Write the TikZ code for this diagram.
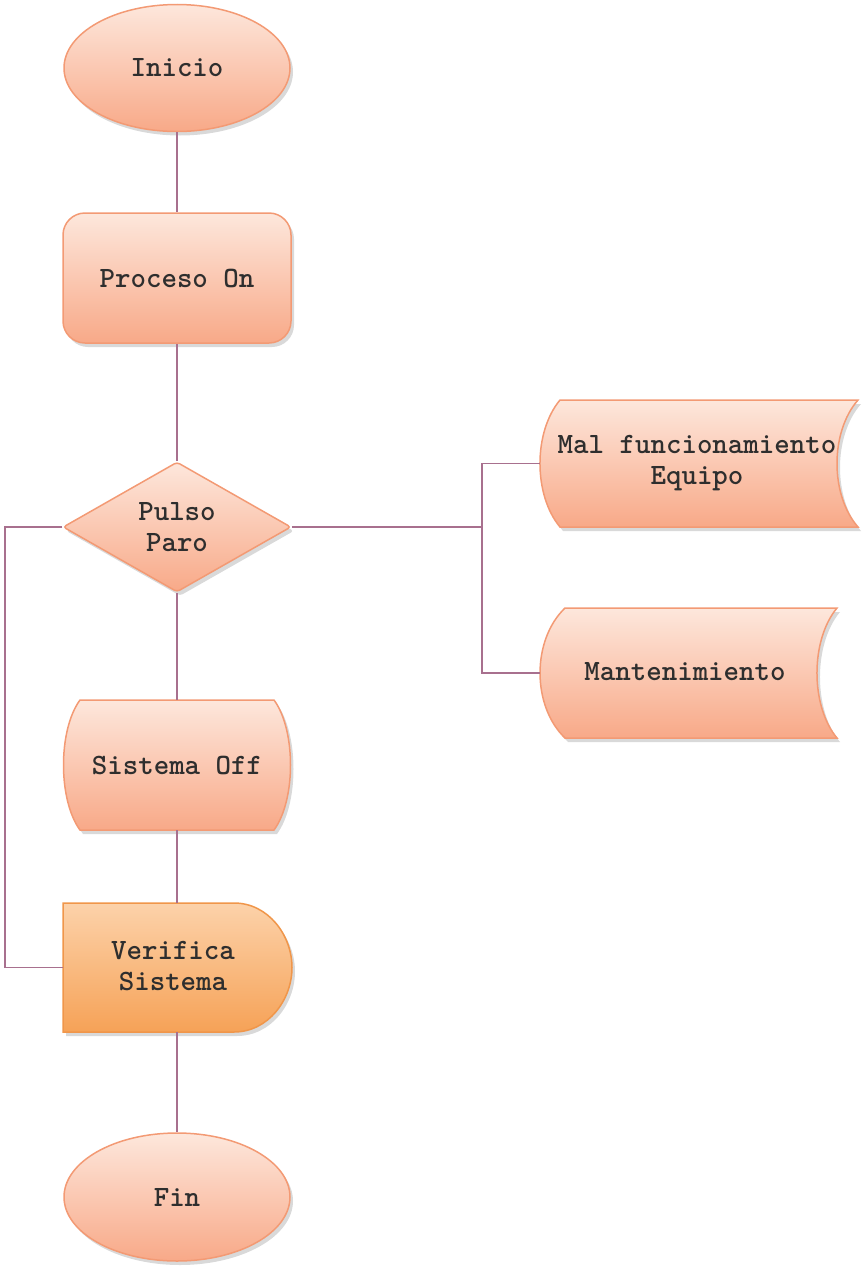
\documentclass[tikz,border=0pt]{standalone}
\usepackage{fontspec}
\usetikzlibrary{shapes.geometric,shadows}
\definecolor{ln}{HTML}{A8708E}
\definecolor{bord}{HTML}{F39A74}
\definecolor{ptop}{HTML}{FDE7DC}
\definecolor{pmid}{HTML}{FBC6AE}
\definecolor{pbot}{HTML}{F8A988}
\definecolor{obord}{HTML}{F0964A}
\definecolor{otop}{HTML}{FCD2AA}
\definecolor{omid}{HTML}{F9B679}
\definecolor{obot}{HTML}{F6A257}
\begin{document}
\begin{tikzpicture}[x=1pt,y=1pt,
  txt/.style={font=\ttfamily\bfseries\fontsize{29.5}{31}\selectfont, text=black!82, align=center, inner sep=0pt},
  shp/.style={draw=bord, line width=1.5pt, top color=ptop, middle color=pmid, bottom color=pbot,
    drop shadow={shadow xshift=3pt, shadow yshift=-4pt, opacity=0.3}},
  oshp/.style={draw=obord, line width=1.5pt, top color=otop, middle color=omid, bottom color=obot,
    drop shadow={shadow xshift=3pt, shadow yshift=-4pt, opacity=0.3}},
  conn/.style={draw=ln, line width=1.6pt}]
\useasboundingbox (0,0) rectangle (863,-1266);

% shapes drawn as paths
\path[shp] (80,-700) -- (274,-700) .. controls (296,-730) and (296,-800) .. (274,-830)
  -- (80,-830) .. controls (58,-800) and (58,-730) .. (80,-700) -- cycle;
\path[oshp] (63,-903) -- (234,-903) .. controls (268,-903) and (292,-935) .. (292,-967.5)
  .. controls (292,-1000) and (268,-1032) .. (234,-1032) -- (63,-1032) -- cycle;
\path[shp] (560,-400) -- (858,-400) .. controls (830,-432) and (830,-495) .. (858,-527)
  -- (560,-527) .. controls (533.3,-495) and (533.3,-432) .. (560,-400) -- cycle;
\path[shp] (565,-608) -- (837,-608) .. controls (810.3,-640) and (810.3,-706) .. (837,-738)
  -- (565,-738) .. controls (531.7,-706) and (531.7,-640) .. (565,-608) -- cycle;

% nodes
\node[shp, txt, ellipse, minimum width=226pt, minimum height=127pt] (ini) at (177,-68) {Inicio};
\node[shp, txt, rectangle, rounded corners=22pt, minimum width=228pt, minimum height=130pt] (pro) at (177,-278) {Proceso On};
\node[shp, txt, diamond, aspect=1.754, rounded corners=3pt, minimum width=228pt, minimum height=130pt] (dec) at (177,-527) {Pulso\\Paro};
\node[txt, minimum width=228pt, minimum height=130pt] (off) at (177,-765) {Sistema Off};
\node[txt, minimum width=228pt, minimum height=129pt] (ver) at (177,-967.5) {};
\node[txt] (vert) at (173,-966) {Verifica\\Sistema};
\node[shp, txt, ellipse, minimum width=226pt, minimum height=128pt] (fin) at (177,-1197) {Fin};
\node[txt, minimum width=318pt, minimum height=127pt] (mal) at (699,-463.5) {};
\node[txt] (malt) at (697,-463.5) {Mal funcionamiento\\Equipo};
\node[txt, minimum width=297pt, minimum height=130pt] (man) at (688.5,-673) {};
\node[txt] (mant) at (685,-672) {Mantenimiento};

\coordinate (lft) at (5,-527);
\coordinate (rj) at (482,-527);

% connectors
\draw[conn] (ini.south) -- (pro.north);
\draw[conn] (pro.south) -- (dec.north);
\draw[conn] (dec.south) -- (off.north);
\draw[conn] (off.south) -- (ver.north);
\draw[conn] (ver.south) -- (fin.north);
\draw[conn] (dec.west) -- (lft) |- (ver.west);
\draw[conn] (dec.east) -- (rj);
\draw[conn] (mal.west) -| (rj);
\draw[conn] (man.west) -| (rj);
\end{tikzpicture}
\end{document}
